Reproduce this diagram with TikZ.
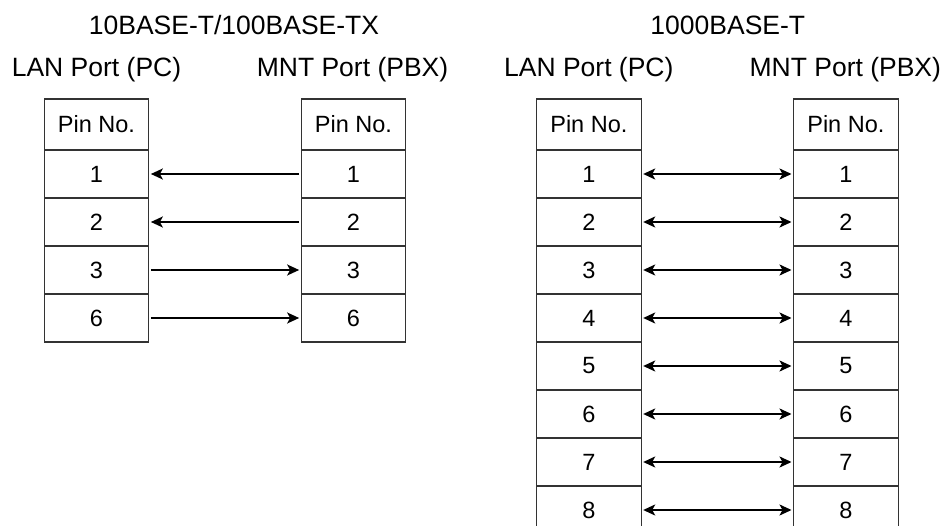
\documentclass[tikz,border=0pt]{standalone}
\usepackage{fontspec}
\setmainfont{Liberation Sans}
\usetikzlibrary{arrows.meta}
\begin{document}
\begin{tikzpicture}[x=1pt,y=-1pt,
  lbl/.style={font=\fontsize{26.5}{30}\selectfont, inner sep=0pt, anchor=base},
  cell/.style={draw=black!80, line width=1.2pt, minimum width=104.5pt, minimum height=48pt, inner sep=0pt, font=\fontsize{23.5}{27}\selectfont},
  headcell/.style={cell, minimum height=51pt},
  wire/.style={line width=1.8pt, black, shorten >=1.5pt, shorten <=1.5pt},
  tip/.style={-{Stealth[length=12pt,width=11pt,inset=3pt]}},
  dtip/.style={{Stealth[length=12pt,width=11pt,inset=3pt]}-{Stealth[length=12pt,width=11pt,inset=3pt]}}
]
\path[use as bounding box, clip] (0,0) rectangle (944,526);
\fill[white] (0,0) rectangle (944,526);

% ---------- left group ----------
\node[lbl] (t1) at (234,35) {10BASE-T/100BASE-TX};
\node[lbl] (lanA) at (96.5,77) {LAN Port (PC)};
\node[lbl] (mntA) at (352.5,77) {MNT Port (PBX)};

\node[headcell] (ah) at (96.5,124.5) {Pin No.};
\node[headcell] (bh) at (353.5,124.5) {Pin No.};
\foreach \p [count=\i] in {1,2,3,6} {
  \node[cell] (a\i) at (96.5,{174+48*(\i-1)}) {\p};
  \node[cell] (b\i) at (353.5,{174+48*(\i-1)}) {\p};
}
\draw[wire,tip] (b1.west) -- (a1.east);
\draw[wire,tip] (b2.west) -- (a2.east);
\draw[wire,tip] (a3.east) -- (b3.west);
\draw[wire,tip] (a4.east) -- (b4.west);

% ---------- right group ----------
\node[lbl] (t2) at (727.8,35) {1000BASE-T};
\node[lbl] (lanB) at (588.8,77) {LAN Port (PC)};
\node[lbl] (mntB) at (845.3,77) {MNT Port (PBX)};

\node[headcell] (ch) at (588.85,124.5) {Pin No.};
\node[headcell] (dh) at (845.85,124.5) {Pin No.};
\foreach \i in {1,...,8} {
  \node[cell] (c\i) at (588.85,{174+48*(\i-1)}) {\i};
  \node[cell] (d\i) at (845.85,{174+48*(\i-1)}) {\i};
  \draw[wire,dtip] (c\i.east) -- (d\i.west);
}
\end{tikzpicture}
\end{document}
